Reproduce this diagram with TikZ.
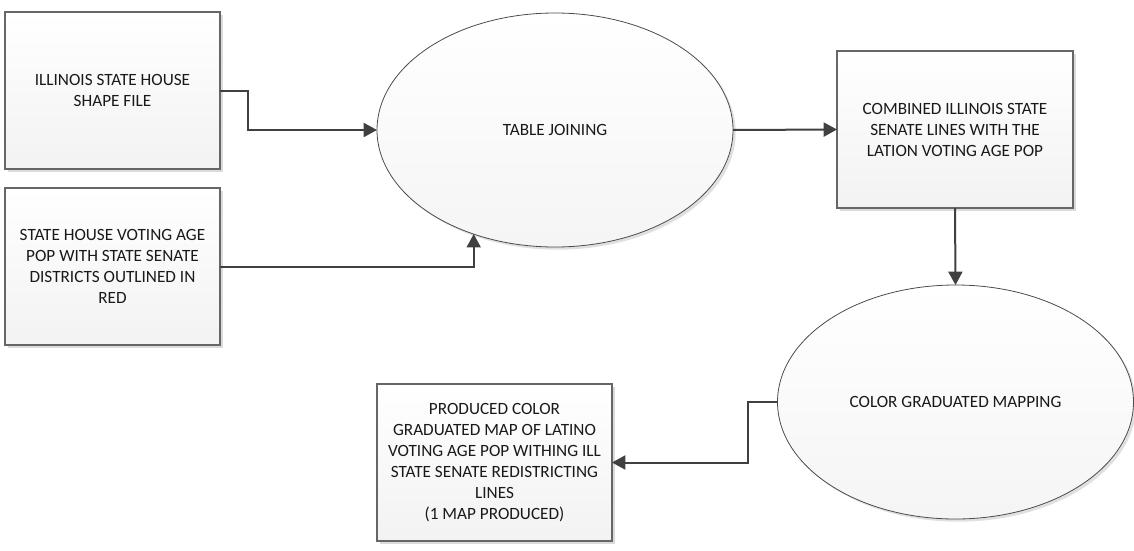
\documentclass[tikz,border=0pt]{standalone}
\usepackage{fontspec}
\setmainfont{Carlito}
\usetikzlibrary{arrows.meta, shapes.geometric, positioning, shadows, calc}

\begin{document}
\begin{tikzpicture}[x=0.75pt, y=-0.75pt,
  every node/.style={font=\fontsize{12.9pt}{15.75pt}\selectfont, text=black!90, align=center},
  databox/.style={rectangle, draw=black!60, line width=0.9pt, top color=white, bottom color=black!5,
                  minimum height=117.75pt, inner sep=0pt, outer sep=0pt,
                  drop shadow={shadow xshift=2.2pt, shadow yshift=-2.2pt, fill=black!14, opacity=1}},
  procoval/.style={ellipse, draw=black!70, line width=0.6pt, top color=white, bottom color=black!4,
                   minimum width=267pt, minimum height=175.5pt, inner sep=0pt, outer sep=0pt,
                   drop shadow={shadow xshift=2pt, shadow yshift=-2pt, fill=black!12, opacity=1}},
  flow/.style={draw=black!75, line width=1.5pt, -{Triangle[length=10pt, width=10.5pt]}}]
\useasboundingbox (0,0) rectangle (1134,550);

\foreach \nm/\x/\y/\w/\txt in {
  house/112.5/90.5/161.25/{ILLINOIS STATE HOUSE\\SHAPE FILE},
  votpop/112.5/266.5/161.25/{STATE HOUSE VOTING AGE\\POP WITH STATE SENATE\\DISTRICTS OUTLINED IN\\RED},
  combined/955/129.5/177/{COMBINED ILLINOIS STATE\\SENATE LINES WITH THE\\LATION VOTING AGE POP},
  produced/494.5/462.5/176.25/{PRODUCED COLOR\\GRADUATED MAP OF LATINO\\VOTING AGE POP WITHING ILL\\STATE SENATE REDISTRICTING\\LINES\\(1 MAP PRODUCED)}%
}{
  \node[databox, minimum width=\w pt] (\nm) at (\x,\y) {\txt};
}

\node[procoval] (join) at (555,130) {TABLE JOINING};
\node[procoval] (colmap) at (955.5,402) {COLOR GRADUATED MAPPING};

\draw[flow] (house.east) -- ++(28,0) |- (join.west);
\draw[flow] (votpop.east) -| (join.232);
\draw[flow] (join.east) -- (combined.west);
\draw[flow] (combined.south) -- (colmap.north);
\draw[flow] (colmap.west) -- ++(-30,0) |- (produced.east);
\end{tikzpicture}
\end{document}
